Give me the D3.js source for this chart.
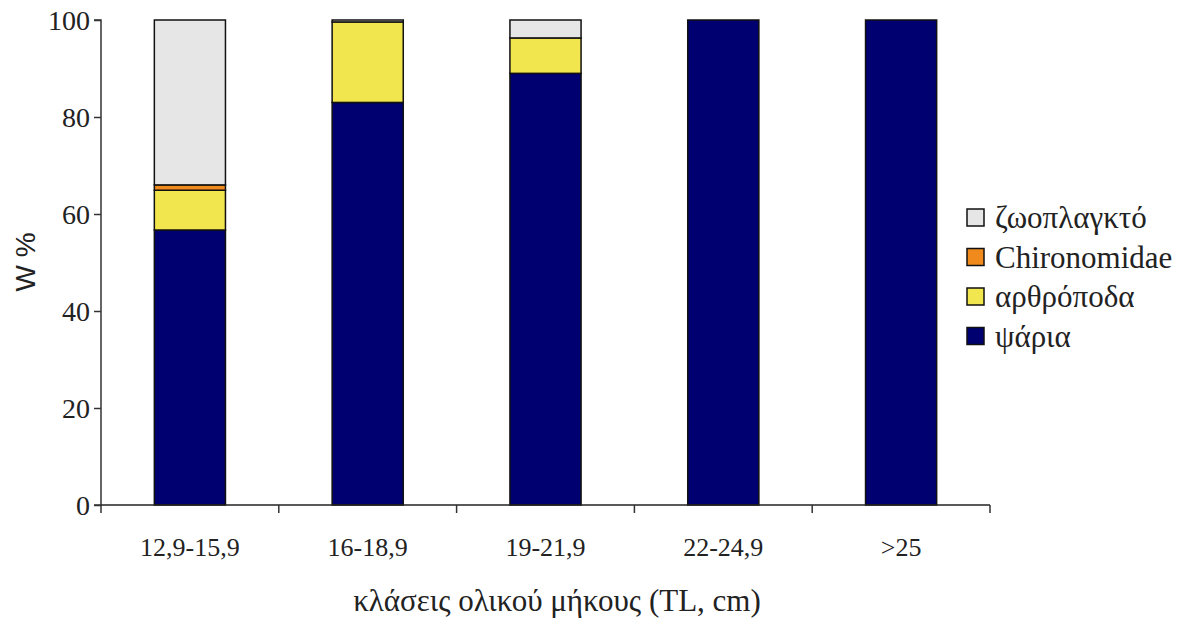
<!DOCTYPE html>
<html><head><meta charset="utf-8">
<script src="https://cdn.jsdelivr.net/npm/d3@7"></script>
</head><body style="margin:0;background:#fff">
<svg id="c" width="1179" height="621" font-family="Liberation Serif"></svg>
<script>
const categories = ["12,9-15,9","16-18,9","19-21,9","22-24,9",">25"];
const seriesNames = ["ψάρια","αρθρόποδα","Chironomidae","ζωοπλαγκτό"];
const psaria = [56.7, 83.0, 89.0, 100, 100];
const arthropoda = [8.2, 16.6, 7.3, 0, 0];
const chironomidae = [1.1, 0, 0, 0, 0];
const zooplankto = [34.0, 0.4, 3.7, 0, 0];
const yTicks = [0,20,40,60,80,100];
const colors = ["#000070","#f2e64e","#f08a1c","#e6e6e6"];

const svg = d3.select("#c");
const x0 = 101, x1 = 990, yTop = 20, yBot = 505;
const x = d3.scaleBand().domain(categories).range([x0,x1]).paddingInner(0).paddingOuter(0);
const y = d3.scaleLinear().domain([0,100]).range([yBot,yTop]);

const rows = categories.map((c,i)=>({cat:c, v:[psaria[i],arthropoda[i],chironomidae[i],zooplankto[i]]}));
const stack = d3.stack().keys([0,1,2,3]).value((d,k)=>d.v[k]);
const layers = stack(rows);
const bw = x.bandwidth()*0.4;

layers.forEach((layer,li)=>{
  svg.append("g").selectAll("rect").data(layer.filter(d=>d[1]-d[0]>0)).join("rect")
    .attr("x", d=>x(d.data.cat)+x.bandwidth()/2-bw/2)
    .attr("width", bw)
    .attr("y", d=>y(d[1]))
    .attr("height", d=>y(d[0])-y(d[1]))
    .attr("fill", colors[li])
    .attr("stroke","#111").attr("stroke-width",1.5);
});

// y axis
const yAxis = d3.axisLeft(y).tickValues(yTicks).tickSize(7).tickPadding(4);
const gy = svg.append("g").attr("transform",`translate(${x0},0)`).call(yAxis);
gy.attr("font-family",null);
gy.select(".domain").attr("stroke","#333").attr("stroke-width",1.5).attr("d",`M-7,${yTop}H0V${yBot}H-7`);
gy.selectAll(".tick line").attr("stroke","#333").attr("stroke-width",1.5);
gy.selectAll(".tick text").style("font-size","28px").attr("fill","#222").attr("dy","0.33em");

// x axis
const gx = svg.append("g").attr("transform",`translate(0,${yBot})`);
gx.append("line").attr("x1",x0).attr("x2",x1).attr("stroke","#222").attr("stroke-width",1.5);
const bounds = categories.map(c=>x(c)).concat([x1]);
gx.selectAll("line.t").data(bounds).join("line").attr("class","t")
  .attr("x1",d=>d).attr("x2",d=>d).attr("y1",0).attr("y2",8).attr("stroke","#333").attr("stroke-width",1.5);
gx.selectAll("text").data(categories).join("text")
  .attr("x",d=>x(d)+x.bandwidth()/2).attr("y",51)
  .attr("text-anchor","middle").style("font-size","26px").attr("fill","#222")
  .text(d=>d);

svg.append("text").attr("x",557).attr("y",611).attr("text-anchor","middle")
  .style("font-size","31px").attr("fill","#222")
  .text("κλάσεις ολικού μήκους (TL, cm)");
svg.append("text").attr("transform","translate(35,262) rotate(-90)").attr("text-anchor","middle")
  .style("font-family","'Liberation Sans'").style("font-size","28px").attr("fill","#222").text("W %");

// legend
const legOrder = [3,2,1,0];
const lg = svg.append("g");
legOrder.forEach((k,i)=>{
  const yy = 218 + i*39.5;
  lg.append("rect").attr("x",967).attr("y",yy-9).attr("width",17).attr("height",17)
    .attr("fill",colors[k]).attr("stroke","#111").attr("stroke-width",1.5);
  lg.append("text").attr("x",995).attr("y",yy+10)
    .style("font-size","31px").attr("fill","#222").text(seriesNames[k]);
});
</script>
</body></html>
